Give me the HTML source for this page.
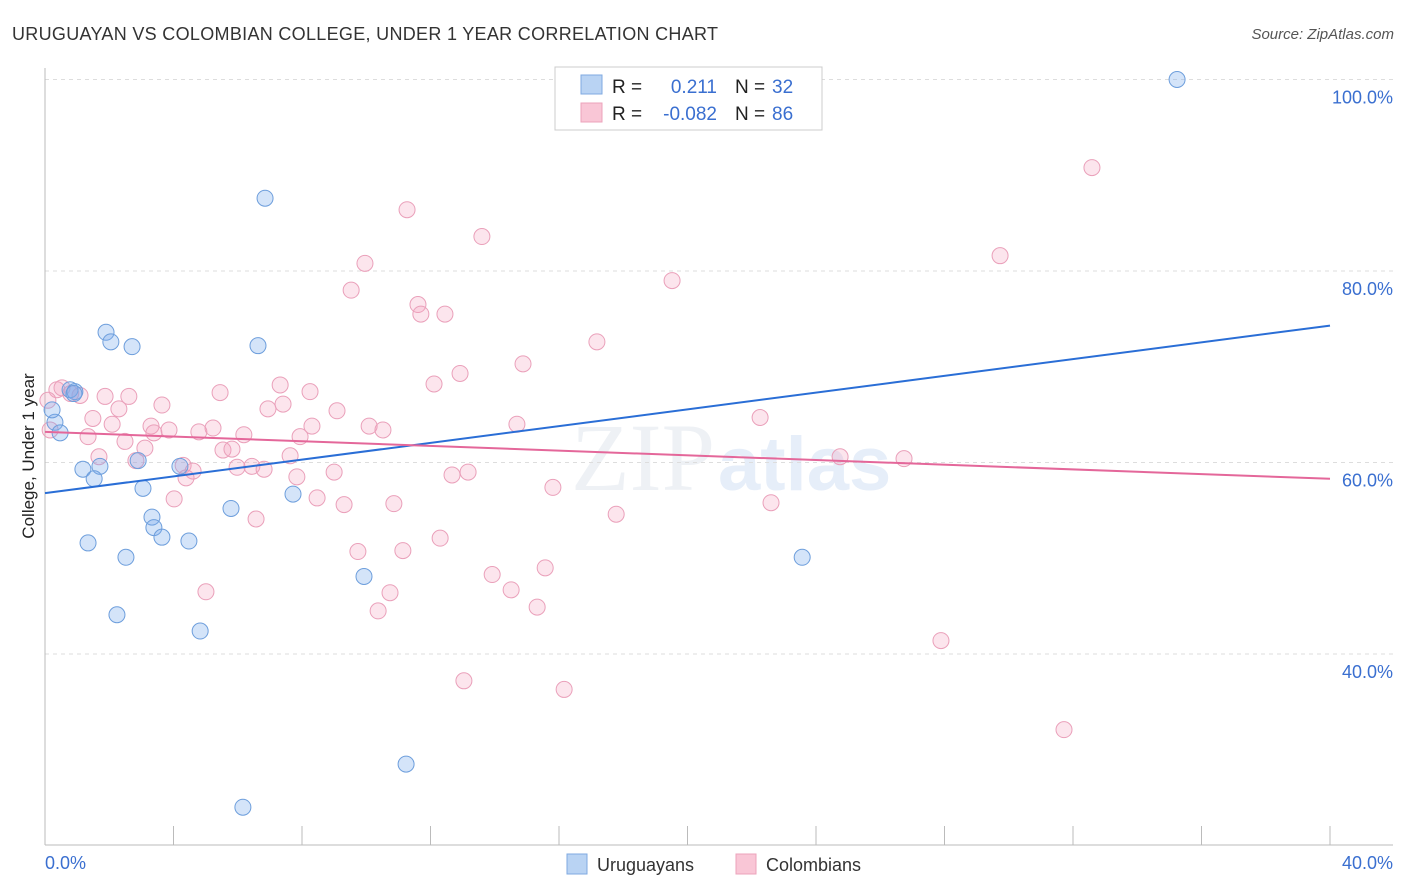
<!DOCTYPE html>
<html><head><meta charset="utf-8"><style>
body{margin:0;background:#fff;font-family:"Liberation Sans",sans-serif;}
svg{display:block}
</style></head><body>
<svg id="chart" width="1406" height="892">
<text x="12" y="40" font-size="18" fill="#333" textLength="706">URUGUAYAN VS COLOMBIAN COLLEGE, UNDER 1 YEAR CORRELATION CHART</text>
<text x="1394" y="39" font-size="15" fill="#555" font-style="italic" text-anchor="end">Source: ZipAtlas.com</text>
<text x="715" y="490" font-size="96" fill="#eef1f5" text-anchor="end" font-family="Liberation Serif">ZIP</text>
<text x="718" y="490" font-size="76" fill="#e6eef9" font-weight="bold">atlas</text>
<g id="grid"></g>
<g id="axes"></g>
<g id="marks"></g>
<text transform="translate(34,456) rotate(-90)" font-size="17" fill="#222" text-anchor="middle">College, Under 1 year</text>
<g>
<rect x="555" y="67" width="267" height="63" fill="#fff" stroke="#ccc"/>
<rect x="581" y="75" width="21" height="19" fill="#b9d3f3" stroke="#7fa9e0"/>
<rect x="581" y="103" width="21" height="19" fill="#f9c6d6" stroke="#eca3bb"/>
<text x="612" y="93" font-size="19" fill="#222">R =</text>
<text x="717" y="93" font-size="19" fill="#3a6fd0" text-anchor="end">0.211</text>
<text x="735" y="93" font-size="19" fill="#222">N =</text>
<text x="772" y="93" font-size="19" fill="#3a6fd0">32</text>
<text x="612" y="120" font-size="19" fill="#222">R =</text>
<text x="717" y="120" font-size="19" fill="#3a6fd0" text-anchor="end">-0.082</text>
<text x="735" y="120" font-size="19" fill="#222">N =</text>
<text x="772" y="120" font-size="19" fill="#3a6fd0">86</text>
</g>
<g>
<rect x="567" y="854" width="20" height="20" fill="#b9d3f3" stroke="#7fa9e0"/>
<text x="597" y="871" font-size="18" fill="#333">Uruguayans</text>
<rect x="736" y="854" width="20" height="20" fill="#f9c6d6" stroke="#eca3bb"/>
<text x="766" y="871" font-size="18" fill="#333">Colombians</text>
</g>
</svg>
<script>
const yTicks=[40,60,80,100];
const yTickLabels=["40.0%","60.0%","80.0%","100.0%"];
const xTicks=[0,4,8,12,16,20,24,28,32,36,40];
const xTickLabels=["0.0%","40.0%"];
const blueX=[35.24,6.85,1.90,2.05,2.71,6.63,0.78,0.93,0.31,0.47,0.22,1.18,1.71,1.53,2.90,4.20,3.05,7.72,5.79,3.33,3.39,3.64,4.48,1.34,2.52,23.57,9.93,2.24,4.83,11.24,6.16,0.9];
const blueY=[100.0,87.6,73.6,72.6,72.1,72.2,67.6,67.4,64.2,63.1,65.5,59.3,59.6,58.3,60.2,59.6,57.3,56.7,55.2,54.3,53.2,52.2,51.8,51.6,50.1,50.1,48.1,44.1,42.4,28.5,24.0,67.2];
const pinkX=[32.59,11.27,13.60,29.73,9.96,9.53,19.52,11.61,11.70,12.45,17.18,14.88,12.92,12.11,7.32,8.25,5.45,2.61,1.87,1.09,0.37,0.53,3.64,2.30,7.41,6.94,9.09,1.49,22.26,14.69,10.09,10.52,8.31,3.30,3.86,5.23,3.39,2.09,4.79,6.19,7.94,1.34,2.49,5.54,5.82,3.11,1.68,24.75,26.74,7.63,2.83,4.30,4.61,5.98,6.44,6.82,9.00,4.39,7.84,12.67,13.17,15.81,4.02,8.47,9.31,10.86,22.60,17.78,6.57,12.30,9.74,11.14,15.57,13.92,14.51,5.01,10.74,10.37,15.32,27.89,13.04,16.16,31.72,0.16,0.09,0.8];
const pinkY=[90.8,86.4,83.6,81.6,80.8,78.0,79.0,76.5,75.5,75.5,72.6,70.3,69.3,68.2,68.1,67.4,67.3,66.9,66.9,67.0,67.6,67.8,66.0,65.6,66.1,65.6,65.4,64.6,64.7,64.0,63.8,63.4,63.8,63.8,63.4,63.6,63.1,64.0,63.2,62.9,62.7,62.7,62.2,61.3,61.4,61.5,60.6,60.6,60.4,60.7,60.2,59.7,59.1,59.5,59.6,59.3,59.0,58.4,58.5,58.7,59.0,57.4,56.2,56.3,55.6,55.7,55.8,54.6,54.1,52.1,50.7,50.8,49.0,48.3,46.7,46.5,46.4,44.5,44.9,41.4,37.2,36.3,32.1,63.4,66.5,67.2];
const blueTrend=[56.8,74.3];
const pinkTrend=[63.2,58.3];

const NS="http://www.w3.org/2000/svg";
const X0=45,X1=1330,YTOP=79.5,PXPER=191.5/20;
function sx(v){return X0+(v/40)*(X1-X0);}
function sy(v){return YTOP+(100-v)*PXPER;}
function mk(tag,attrs,parent){const e=document.createElementNS(NS,tag);for(const k in attrs)e.setAttribute(k,attrs[k]);parent.appendChild(e);return e;}
const grid=document.getElementById('grid'),axes=document.getElementById('axes'),marks=document.getElementById('marks');
yTicks.forEach((t,i)=>{
  const l=mk('line',{x1:X0,x2:1393,y1:sy(t),y2:sy(t),stroke:'#ddd','stroke-dasharray':'4,4'},grid);
  
  
  const tx=mk('text',{x:1393,y:sy(t)+24,'font-size':18,fill:'#3a6fd0','text-anchor':'end'},axes);
  tx.textContent=yTickLabels[i];
  
  
});
const ax=mk('line',{x1:X0,x2:1393,y1:845,y2:845,stroke:'#bbb'},axes);


const ay=mk('line',{x1:X0,x2:X0,y1:68,y2:845,stroke:'#bbb'},axes);


xTicks.forEach(t=>{
  const l=mk('line',{x1:sx(t),x2:sx(t),y1:826,y2:845,stroke:'#bbb'},axes);
  
  
});
const xl0=mk('text',{x:45,y:869,'font-size':18,fill:'#3a6fd0'},axes);xl0.textContent=xTickLabels[0];


const xl1=mk('text',{x:1393,y:869,'font-size':18,fill:'#3a6fd0','text-anchor':'end'},axes);xl1.textContent=xTickLabels[1];


pinkX.forEach((v,i)=>{
  const c=mk('circle',{cx:sx(v),cy:sy(pinkY[i]),r:8,fill:'rgba(244,160,190,0.28)',stroke:'#eaa0ba','stroke-width':1},marks);
  
  
});
blueX.forEach((v,i)=>{
  const c=mk('circle',{cx:sx(v),cy:sy(blueY[i]),r:8,fill:'rgba(120,170,235,0.32)',stroke:'#6d9edc','stroke-width':1},marks);
  
  
});
const bt=mk('line',{x1:sx(0),x2:sx(40),y1:sy(blueTrend[0]),y2:sy(blueTrend[1]),stroke:'#2a6ed6','stroke-width':2},marks);


const pt=mk('line',{x1:sx(0),x2:sx(40),y1:sy(pinkTrend[0]),y2:sy(pinkTrend[1]),stroke:'#e4679a','stroke-width':2},marks);


</script>
</body></html>
